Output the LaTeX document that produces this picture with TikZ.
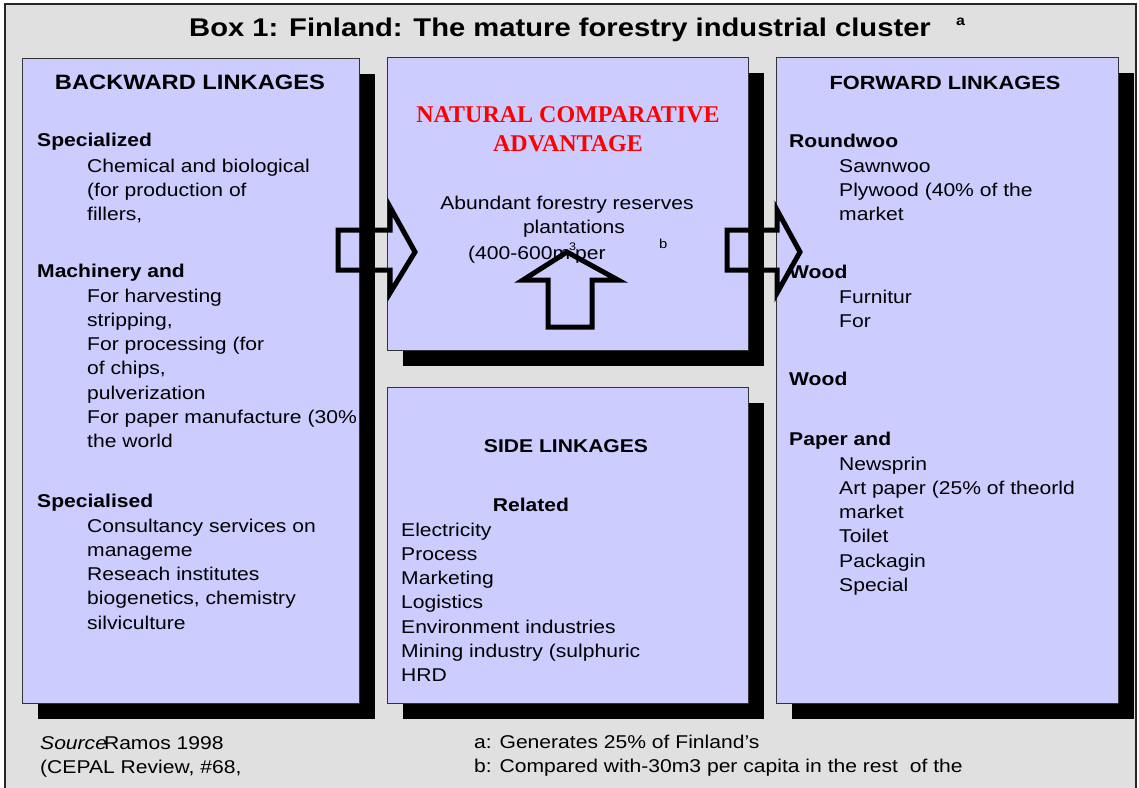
\documentclass[tikz,border=0pt]{standalone}
\usepackage{fontspec}
\setmainfont{Liberation Sans}[FakeStretch=1.14]
\newfontfamily\serifred{Liberation Serif}
\usetikzlibrary{shadows}
\definecolor{lav}{HTML}{CCCCFF}
\definecolor{bggray}{HTML}{E0E0E0}
\newcommand{\bodyf}{\fontsize{18.5}{24.3}\selectfont}
\newcommand{\mylines}[1]{\begin{tabular}[t]{@{}l@{}}#1\end{tabular}}
\begin{document}
\begin{tikzpicture}[x=1pt,y=-1pt,
  box/.style={draw=black!80, fill=lav, line width=1pt, inner sep=0pt, anchor=north west,
    drop shadow={shadow xshift=15pt, shadow yshift=-15pt, fill=black, opacity=1}},
  txt/.style={inner sep=0pt, anchor=base west, font=\bodyf},
  hd/.style={inner sep=0pt, anchor=base west, font=\bodyf\bfseries},
  ctr/.style={inner sep=0pt, anchor=base, font=\bodyf},
  blockarrow/.style={draw=black, line width=5pt}
]
\useasboundingbox (0,0) rectangle (1139,787);
\fill[white] (0,0) rectangle (1139,787);
\draw[fill=bggray, draw=black!85, line width=1.3pt] (5,4) rectangle (1136,800);

% title
\node[txt, font=\fontsize{25.6}{30}\selectfont\bfseries] (title) at (189,36) {Box 1: Finland: The mature forestry industrial cluster};
\node[txt, font=\fontsize{14}{16}\selectfont\bfseries] (titlea) at (956,25) {a};

% boxes
\node[box, minimum width=337pt, minimum height=645pt] (back) at (22,58) {};
\node[box, minimum width=361pt, minimum height=293pt] (nca) at (387,57) {};
\node[box, minimum width=361pt, minimum height=316pt] (side) at (387,387) {};
\node[box, minimum width=342pt, minimum height=646pt] (fwd) at (776,57) {};

% backward linkages
\node[ctr, font=\fontsize{20.8}{25}\selectfont\bfseries] (backh) at (190,89) {BACKWARD LINKAGES};
\node[hd] (b1h) at (37,146) {Specialized};
\node[txt] (b1) at (87,172) {\mylines{Chemical and biological\\(for production of\\fillers,}};
\node[hd] (b2h) at (37,277) {Machinery and};
\node[txt] (b2) at (87,302) {\mylines{For harvesting\\stripping,\\For processing (for\\of chips,\\pulverization\\For paper manufacture (30\%\\the world}};
\node[hd] (b3h) at (37,507) {Specialised};
\node[txt] (b3) at (87,532) {\mylines{Consultancy services on\\manageme\\Reseach institutes\\biogenetics, chemistry\\silviculture}};

% natural comparative advantage
\node[inner sep=0pt, anchor=base, text=red, font=\serifred\bfseries\fontsize{24}{30}\selectfont] (nat1) at (568,122) {NATURAL COMPARATIVE};
\node[inner sep=0pt, anchor=base, text=red, font=\serifred\bfseries\fontsize{24}{30}\selectfont] (nat2) at (568,151) {ADVANTAGE};
\node[ctr] (n1) at (567,209) {Abundant forestry reserves};
\node[ctr] (n2) at (574,233) {plantations};
\node[txt] (n3) at (468,259) {(400-600m\kern-1pt\raisebox{9pt}{\fontsize{11}{11}\selectfont 3}\kern-1pt per};
\node[txt, font=\fontsize{13}{13}\selectfont] (nb) at (659,248) {b};

% side linkages
\node[ctr, font=\bodyf\bfseries] (sideh) at (566,452) {SIDE LINKAGES};
\node[ctr, font=\bodyf\bfseries] (rel) at (531,511) {Related};
\node[txt] (s1) at (401,536) {\mylines{Electricity\\Process\\Marketing\\Logistics\\Environment industries\\Mining industry (sulphuric\\HRD}};

% forward linkages
\node[ctr, font=\fontsize{19.1}{24}\selectfont\bfseries] (fwdh) at (945,89) {FORWARD LINKAGES};
\node[hd] (f1h) at (789,147) {Roundwoo};
\node[txt] (f1) at (839,172) {\mylines{Sawnwoo\\Plywood (40\% of the\\market}};
\node[hd] (f2h) at (789,278) {Wood};
\node[txt] (f2) at (839,303) {\mylines{Furnitur\\For}};
\node[hd] (f3h) at (789,385) {Wood};
\node[hd] (f4h) at (789,445) {Paper and};
\node[txt] (f4) at (839,470) {\mylines{Newsprin\\Art paper (25\% of theorld\\market\\Toilet\\Packagin\\Special}};

% footer
\node[txt] (src) at (40,749) {\mylines{{\itshape Source}\kern-3pt Ramos 1998\\(CEPAL Review, \#68,}};
\node[txt] (notes) at (474,748) {\mylines{a: Generates 25\% of Finland's\\b: Compared with-30m3 per capita in the rest \ of the}};

% block arrows
\draw[blockarrow] (338,230) -- (390,230) -- (390,207) -- (415,252) -- (390,293) -- (390,270) -- (338,270) -- cycle;
\draw[blockarrow] (727,230) -- (777,230) -- (777,210) -- (800,252) -- (777,293) -- (777,270) -- (727,270) -- cycle;
\draw[blockarrow] (548,327) -- (592,327) -- (592,280) -- (618,280) -- (567,252) -- (523,280) -- (548,280) -- cycle;
\end{tikzpicture}
\end{document}
